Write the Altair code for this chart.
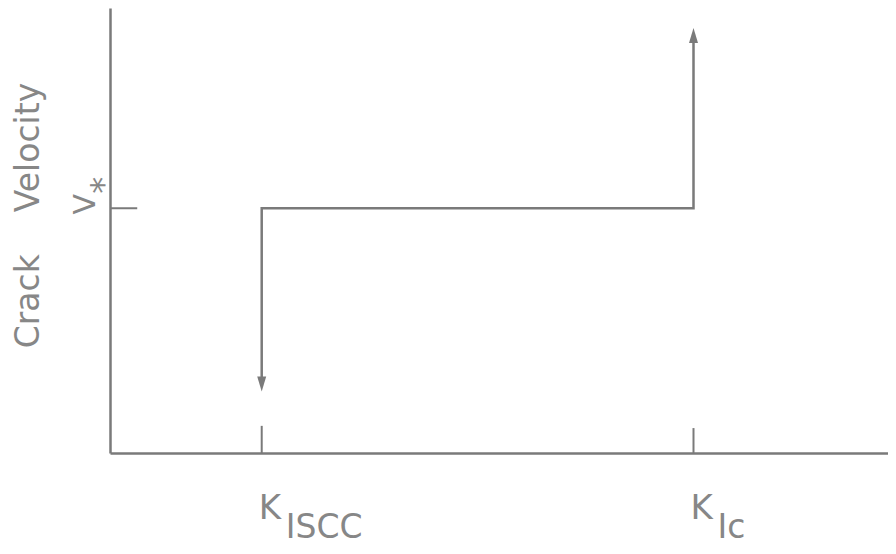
import altair as alt
import pandas as pd

# ---- data ----
step_x = [19.5, 19.5, 75.0, 75.0]
step_y = [15.5, 55.0, 55.0, 93.8]
step_order = [0, 1, 2, 3]

arrow_x = [19.5, 75.0]
arrow_y = [15.5, 93.8]

x_tick_pos = [19.5, 75.0]
x_tick_top = [6.1, 5.6]
x_label_main = ["K", "K"]
x_label_sub = ["ISCC", "Ic"]

y_tick_pos = [55.0]
y_tick_right = [3.5]
y_label_main = ["V"]
y_label_sub = ["*"]

y_title = "Crack\u00a0\u00a0\u00a0\u00a0Velocity"

GRAY = "#7a7a7a"
TEXT = "#878787"
FONT = "DejaVu Sans"

xs = alt.Scale(domain=[0, 100], nice=False, zero=False)
ys = alt.Scale(domain=[0, 100], nice=False, zero=False)

x_axis = alt.Axis(title=None, labels=False, ticks=False, grid=False,
                  domainColor=GRAY, domainWidth=2.5)
y_axis = alt.Axis(title=y_title, labels=False, ticks=False, grid=False,
                  domainColor=GRAY, domainWidth=2.5,
                  titleAngle=270, titleFont=FONT, titleFontSize=33,
                  titleFontWeight="normal", titleColor=TEXT,
                  titleX=-82, titleY=207, titleAlign="center",
                  titleBaseline="middle")


def X(f):
    return alt.X(f, scale=xs, axis=x_axis)


def Y(f):
    return alt.Y(f, scale=ys, axis=y_axis)


step_df = pd.DataFrame({"x": step_x, "y": step_y, "o": step_order})
up_df = pd.DataFrame({"x": [arrow_x[1]], "y": [arrow_y[1]]})
down_df = pd.DataFrame({"x": [arrow_x[0]], "y": [arrow_y[0]]})
xt_df = pd.DataFrame({"x": x_tick_pos, "y0": [0.0, 0.0], "y1": x_tick_top,
                      "main": x_label_main, "sub": x_label_sub})
yt_df = pd.DataFrame({"y": y_tick_pos, "x0": [0.0], "x1": y_tick_right,
                      "main": y_label_main, "sub": y_label_sub})

step = alt.Chart(step_df).mark_line(color=GRAY, strokeWidth=2.5).encode(
    x=X("x:Q"), y=Y("y:Q"), order="o:Q")

up = alt.Chart(up_df).mark_point(
    shape="M0,-1L0.6,1L-0.6,1Z", size=225, filled=True, color=GRAY, opacity=1
).encode(x=X("x:Q"), y=Y("y:Q"))

down = alt.Chart(down_df).mark_point(
    shape="M0,1L0.6,-1L-0.6,-1Z", size=225, filled=True, color=GRAY, opacity=1
).encode(x=X("x:Q"), y=Y("y:Q"))

xticks = alt.Chart(xt_df).mark_rule(color=GRAY, strokeWidth=2).encode(
    x=X("x:Q"), y=Y("y0:Q"), y2="y1:Q")

yticks = alt.Chart(yt_df).mark_rule(color=GRAY, strokeWidth=2).encode(
    y=Y("y:Q"), x=X("x0:Q"), x2="x1:Q")

xmain = alt.Chart(xt_df).mark_text(
    font=FONT, fontSize=34, color=TEXT, align="left", baseline="alphabetic",
    dx=-3, dy=66
).encode(x=X("x:Q"), y=Y("y0:Q"), text="main:N")

xsub = alt.Chart(xt_df).mark_text(
    font=FONT, fontSize=33, color=TEXT, align="left", baseline="alphabetic",
    dx=24, dy=85
).encode(x=X("x:Q"), y=Y("y0:Q"), text="sub:N")

ymain = alt.Chart(yt_df).mark_text(
    font=FONT, fontSize=30, color=TEXT, align="center", baseline="middle",
    angle=270, dx=4, dy=-24
).encode(x=X("x0:Q"), y=Y("y:Q"), text="main:N")

ysub = alt.Chart(yt_df).mark_text(
    font=FONT, fontSize=34, color=TEXT, align="center", baseline="middle",
    angle=270, dx=23, dy=-5
).encode(x=X("x0:Q"), y=Y("y:Q"), text="sub:N")

chart = alt.layer(step, up, down, xticks, yticks, xmain, xsub, ymain, ysub).properties(
    width=778, height=445,
    padding={"left": 102, "top": 0, "right": 0, "bottom": 93},
    autosize="none",
    background="white",
).configure_view(stroke=None)

chart.save("out.html", embed_options={"renderer": "svg", "actions": False})
